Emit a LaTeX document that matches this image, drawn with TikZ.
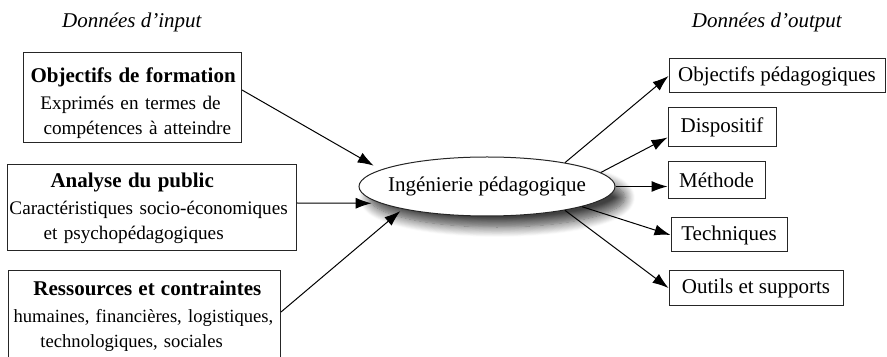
\documentclass[tikz,border=0pt]{standalone}
\usepackage{fontspec}
\setmainfont{Liberation Serif}
\usetikzlibrary{shapes.geometric,arrows.meta,shadows.blur}

\newcommand{\ttl}[1]{{\fontsize{10.5}{12.5}\selectfont\bfseries #1}}

\begin{document}
\begin{tikzpicture}[x=0.5pt, y=-0.5pt,
    every node/.style={font=\fontsize{10.5}{12.75}\selectfont},
    box/.style={draw=black!85, line width=0.5pt, inner sep=0pt, align=center},
    inbox/.style={draw=black!85, line width=0.5pt, inner sep=0pt, anchor=north west, align=left,
        font=\fontsize{9.6}{12.5}\selectfont},
    fl/.style={-{Latex[length=8pt,width=5.5pt]}, line width=0.5pt}]
    \useasboundingbox (0,0) rectangle (887,357);

    % 見出し
    \node (hin) at (132,22) {\textit{Données d’input}};
    \node (hout) at (767,22) {\textit{Données d’output}};

    % 入力の枠
    \node[inbox, text width=109pt, text height=15pt, text depth=30pt] (obj) at (23,52)
        {\hspace*{3.5pt}\ttl{Objectifs de formation}\\[1pt]\hspace*{8.5pt}\mbox{Exprimés en termes de}\\\hspace*{10pt}\mbox{compétences à atteindre}};
    \node[inbox, text width=144.5pt, text height=11.5pt, text depth=31.5pt] (pub) at (7,164)
        {\hspace*{21.5pt}\ttl{Analyse du public}\\[1pt]\hspace*{1pt}\mbox{Caractéristiques socio-économiques}\\\hspace*{18pt}\mbox{et psychopédagogiques}};
    \node[inbox, font=\fontsize{9.3}{12.5}\selectfont, text width=136pt, text height=12.5pt, text depth=40pt] (res) at (8,270)
        {\hspace*{12.5pt}\ttl{Ressources et contraintes}\\[1pt]\hspace*{2.5pt}\mbox{humaines, financières, logistiques,}\\\hspace*{16pt}\mbox{technologiques, sociales}};

    % 中心の楕円
    \node[ellipse, draw=black!85, line width=0.5pt, fill=white, minimum width=128pt, minimum height=29.5pt,
        inner xsep=-6pt, inner ysep=0pt,
        blur shadow={shadow xshift=5pt, shadow yshift=-5.5pt, shadow blur radius=5pt, shadow blur steps=12, shadow opacity=75}] (ing) at (487,186.5) {Ingénierie pédagogique};

    % 出力の枠
    \node[box, minimum width=108pt, minimum height=17pt] (o1) at (777,76) {Objectifs pédagogiques};
    \node[box, minimum width=54pt, minimum height=19.5pt] (o2) at (722,127.5) {Dispositif};
    \node[box, minimum width=48.5pt, minimum height=18.5pt] (o3) at (716.5,180.5) {Méthode};
    \node[box, minimum width=58pt, minimum height=17pt] (o4) at (729,235) {Techniques};
    \node[box, minimum width=87pt, minimum height=17pt] (o5) at (756,288) {Outils et supports};

    % 矢印を引く
    \draw[fl, shorten >=4pt] ([yshift=-19pt]obj.north east) -- (ing.171);
    \draw[fl, shorten >=4.5pt] ([yshift=-19.5pt]pub.north east) -- (ing.189);
    \draw[fl, shorten >=1.5pt] ([yshift=-21pt]res.north east) -- (ing.195.5);

    \draw[fl] (ing.17) -- (o1.west);
    \draw[fl] (ing.7) -- ([yshift=-5pt]o2.west);
    \draw[fl] (ing.east) -- (ing.east -| o3.west);
    \draw[fl] (ing.-12) -- (o4.west);
    \draw[fl] (ing.-17) -- (o5.west);

\end{tikzpicture}
\end{document}
